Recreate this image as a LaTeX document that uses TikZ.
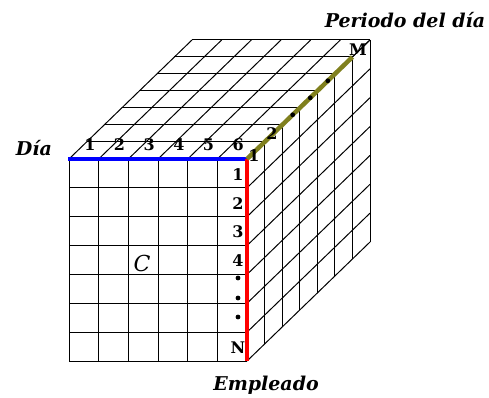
\documentclass[tikz,border=0pt]{standalone}
\usepackage{fontspec}
\setmainfont{DejaVu Serif}
\definecolor{periodo}{RGB}{128,128,30}
\newcommand{\cellw}{29.67}
\newcommand{\cellh}{28.86}
\newcommand{\depx}{17.57}
\newcommand{\depy}{17}

\begin{document}
\begin{tikzpicture}[
  x=1pt, y=1pt,
  grid/.style={black, line width=1pt},
  edge/.style={line width=4.5pt},
  num/.style={font=\fontsize{16}{16}\selectfont\bfseries, inner sep=0pt},
  axis/.style={font=\fontsize{19}{19}\selectfont\bfseries\itshape, inner sep=0pt}
]
  \useasboundingbox (-69,-36) rectangle (420,361);
  % front face
  \foreach \i in {0,...,6}
    \draw[grid] (\i*\cellw,0) -- (\i*\cellw,7*\cellh);
  \foreach \j in {0,...,7}
    \draw[grid] (0,\j*\cellh) -- (6*\cellw,\j*\cellh);
  % top face
  \foreach \k in {1,...,7}
    \draw[grid] (\k*\depx,7*\cellh+\k*\depy) -- ++(6*\cellw,0);
  \foreach \i in {0,...,6}
    \draw[grid] (\i*\cellw,7*\cellh) -- ++(7*\depx,7*\depy);
  % right face
  \foreach \k in {1,...,7}
    \draw[grid] (6*\cellw+\k*\depx,\k*\depy) -- ++(0,7*\cellh);
  \foreach \j in {0,...,7}
    \draw[grid] (6*\cellw,\j*\cellh) -- ++(7*\depx,7*\depy);

  % coloured edges
  \coordinate (corner) at (6*\cellw,7*\cellh);
  \coordinate (left) at (-1,7*\cellh);
  \coordinate (foot) at (6*\cellw,0);
  \coordinate (mend) at (6*\cellw+6*\depx,7*\cellh+6*\depy);
  \draw[edge, blue] (left) -- (corner);
  \draw[edge, red] (corner) -- (foot);
  \draw[edge, periodo] (corner) -- (mend);
  \foreach \t in {2.6,3.6,4.6}
    \fill (6*\cellw+\t*\depx,7*\cellh+\t*\depy) circle (2.4);

  % labels
  \foreach \i in {1,...,6}
    \node[num] (dia\i) at ({(\i-0.5)*\cellw+6},7*\cellh+14) {\i};
  \foreach \j/\lab in {1/1,2/2,3/3,4/4,7/N}
    \node[num] (emp\j) at (6*\cellw-9,{(7.5-\j)*\cellh-1}) {\lab};
  \foreach \y in {83,63,44}
    \fill (6*\cellw-9,\y) circle (2.4);
  \node[num] (per1) at (185,205) {1};
  \node[num] (per2) at (203,227) {2};
  \node[num] (perM) at (289,311) {M};
  \node[font=\fontsize{22}{22}\selectfont\itshape] (cell) at (73,98) {C};
  \node[axis] (dia) at (-35,213) {Día};
  \node[axis] (periodo) at (336,341) {Periodo del día};
  \node[axis] (empleado) at (197,-24) {Empleado};
\end{tikzpicture}
\end{document}
